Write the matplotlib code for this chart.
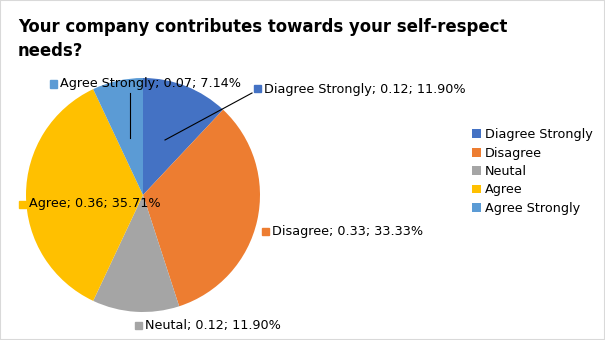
import numpy as np
import matplotlib.pyplot as plt
from matplotlib.patches import Rectangle
from matplotlib.lines import Line2D

categories = ["Diagree Strongly", "Disagree", "Neutal", "Agree", "Agree Strongly"]
values = [0.12, 0.33, 0.12, 0.36, 0.07]
percents = [11.90, 33.33, 11.90, 35.71, 7.14]
colors = ["#4472C4", "#ED7D31", "#A5A5A5", "#FFC000", "#5B9BD5"]

W, H = 605, 340


def px(x, y):
    # pixel coords (top-left origin) -> figure fraction
    return x / W, 1 - y / H


fig = plt.figure(figsize=(W / 100, H / 100), dpi=100)
fig.patches.append(Rectangle((0, 0), 1, 1, transform=fig.transFigure,
                             fill=False, edgecolor="#D9D9D9", linewidth=1.5))

# pie: centre (143,195), radius 117 px
cx, cy, r = 143, 195, 117
ax = fig.add_axes([(cx - r) / W, (H - cy - r) / H, 2 * r / W, 2 * r / H])
wedges, _ = ax.pie(values, colors=colors, startangle=90, counterclock=False,
                   radius=1, wedgeprops=dict(linewidth=0))
ax.set_xlim(-1, 1)
ax.set_ylim(-1, 1)
ax.axis("off")

fig.text(*px(18, 39), "Your company contributes towards your self-respect\nneeds?",
         fontsize=11.9, fontweight="bold", va="center", ha="left", linespacing=1.45)

# data labels (marker x, y in px)
label_pos = [(257, 89), (265, 231), (138, 325), (22, 204), (53, 84)]
for i, (mx, my) in enumerate(label_pos):
    fx, fy = px(mx, my)
    fig.patches.append(Rectangle((fx - 3.5 / W, fy - 3.5 / H), 7 / W, 7 / H,
                                 transform=fig.transFigure, color=colors[i]))
    txt = "%s; %.2f; %.2f%%" % (categories[i], values[i], percents[i])
    fig.text(*px(mx + 7, my), txt, fontsize=9.2, va="center", ha="left")

# leader lines
for (x0, y0), (x1, y1) in [((165, 140), (252, 93)), ((130, 138), (130, 93))]:
    a, b = px(x0, y0)
    c, d = px(x1, y1)
    fig.add_artist(Line2D([a, c], [b, d], transform=fig.transFigure,
                          color="black", linewidth=0.8))

fig.legend(wedges, categories, loc="upper left", bbox_to_anchor=px(466, 122),
           frameon=False, fontsize=9.2, handlelength=0.7, handleheight=0.7,
           handletextpad=0.3, labelspacing=0.42, borderpad=0)

fig.savefig("out.png", dpi=100)
